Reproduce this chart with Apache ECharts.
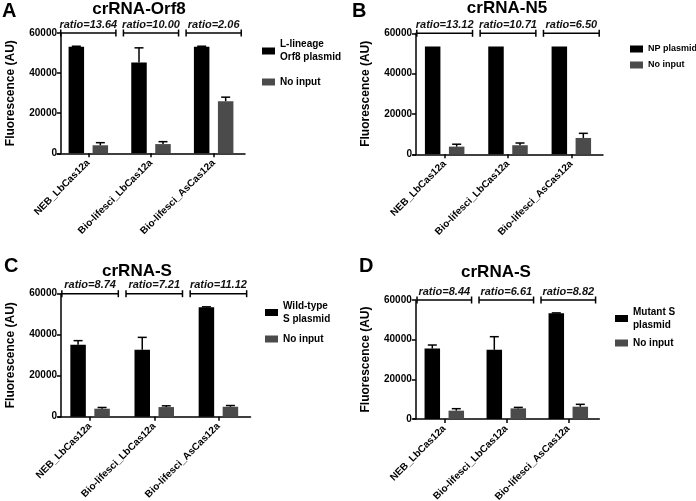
<!DOCTYPE html>
<html><head><meta charset="utf-8">
<script src="https://cdn.jsdelivr.net/npm/echarts/dist/echarts.min.js"></script>
<style>html,body{margin:0;padding:0;background:#fff}#c{width:696px;height:501px}</style>
</head><body><div id="c"></div>
<script>
// ---- data ----
const categories = ['NEB_LbCas12a', 'Bio-lifesci_LbCas12a', 'Bio-lifesci_AsCas12a'];
const panelLetters = ['A', 'B', 'C', 'D'];
const panelTitles = ['crRNA-Orf8', 'crRNA-N5', 'crRNA-S', 'crRNA-S'];
const plasmidNames = ['L-lineage\nOrf8 plasmid', 'NP plasmid', 'Wild-type\nS plasmid', 'Mutant S\nplasmid'];
const noInputName = 'No input';
const yTickLabels = [0, 20000, 40000, 60000];
const bracketLevel = 60000;

const plasmidA = [53100, 45300, 53100];
const plasmidSdA = [300, 7300, 300];
const noInputA = [4000, 4600, 26000];
const noInputSdA = [1300, 1200, 2000];
const ratiosA = ['ratio=13.64', 'ratio=10.00', 'ratio=2.06'];

const plasmidB = [53400, 53400, 53400];
const plasmidSdB = [0, 0, 0];
const noInputB = [3800, 4500, 8100];
const noInputSdB = [1200, 1100, 2300];
const ratiosB = ['ratio=13.12', 'ratio=10.71', 'ratio=6.50'];

const plasmidC = [35100, 32700, 53400];
const plasmidSdC = [2000, 6000, 200];
const noInputC = [3900, 4700, 4850];
const noInputSdC = [600, 600, 600];
const ratiosC = ['ratio=8.74', 'ratio=7.21', 'ratio=11.12'];

const plasmidD = [35500, 34900, 53300];
const plasmidSdD = [1800, 6600, 200];
const noInputD = [4200, 5350, 6200];
const noInputSdD = [1000, 500, 1200];
const ratiosD = ['ratio=8.44', 'ratio=6.61', 'ratio=8.82'];

const panelData = [
  {plasmid: plasmidA, plasmidSd: plasmidSdA, noInput: noInputA, noInputSd: noInputSdA, ratios: ratiosA},
  {plasmid: plasmidB, plasmidSd: plasmidSdB, noInput: noInputB, noInputSd: noInputSdB, ratios: ratiosB},
  {plasmid: plasmidC, plasmidSd: plasmidSdC, noInput: noInputC, noInputSd: noInputSdC, ratios: ratiosC},
  {plasmid: plasmidD, plasmidSd: plasmidSdD, noInput: noInputD, noInputSd: noInputSdD, ratios: ratiosD}
];

// ---- layout / style ----
const FONT = "'Liberation Sans', Arial, sans-serif";
const BLACK = '#000000';
const GRAY = '#4b4b4b';
const layout = [
  {left: 57, top: 33, width: 188, height: 120.3, yOff: -4, titleX: 139, titleTop: 1, letter: [2, 1], leg: [262, 38, 11.5, 10]},
  {left: 413, top: 33.3, width: 190, height: 121, yOff: -3, titleX: 507, titleTop: 0, letter: [352, 1], leg: [630, 42.5, 3, 9]},
  {left: 58, top: 293.7, width: 192.5, height: 123, yOff: -3, titleX: 137, titleTop: 263, letter: [4, 256], leg: [265, 299.5, 7, 10]},
  {left: 413.3, top: 300, width: 186, height: 119, yOff: -2.5, titleX: 496, titleTop: 264, letter: [359, 256], leg: [615, 305.5, 5, 10]}
];
const BAR_W = 15.5, BAR_GAP = 8.5;
const HALF_STEP = (BAR_W + BAR_GAP) / 2;

function errRender(sign) {
  return function (params, api) {
    const idx = api.value(0), mean = api.value(1), top = api.value(2);
    if (!(top > mean)) return null;
    const p1 = api.coord([idx, mean]);
    const p2 = api.coord([idx, top]);
    const x = p1[0] + sign * HALF_STEP;
    return {type: 'group', children: [
      {type: 'line', shape: {x1: x, y1: p1[1], x2: x, y2: p2[1]}, style: {stroke: BLACK, lineWidth: 1.5}},
      {type: 'line', shape: {x1: x - 4.5, y1: p2[1], x2: x + 4.5, y2: p2[1]}, style: {stroke: BLACK, lineWidth: 1.5}}
    ]};
  };
}
function bracketRender(ratios) {
  return function (params, api) {
    const idx = api.value(0);
    const c = api.coord([idx, api.value(1)]);
    const bw = api.size([1, 0])[0];
    const h = bw * 0.44;
    return {type: 'group', children: [
      {type: 'line', shape: {x1: c[0] - h, y1: c[1], x2: c[0] + h, y2: c[1]}, style: {stroke: BLACK, lineWidth: 1.5}},
      {type: 'line', shape: {x1: c[0] - h, y1: c[1] - 3.5, x2: c[0] - h, y2: c[1] + 3.5}, style: {stroke: BLACK, lineWidth: 1.5}},
      {type: 'line', shape: {x1: c[0] + h, y1: c[1] - 3.5, x2: c[0] + h, y2: c[1] + 3.5}, style: {stroke: BLACK, lineWidth: 1.5}},
      {type: 'text', x: c[0], y: c[1] - 8.5, style: {text: ratios[params.dataIndex], align: 'center', verticalAlign: 'middle',
        fontFamily: FONT, fontSize: 11, fontWeight: 'bold', fontStyle: 'italic', fill: '#111'}}
    ]};
  };
}

const option = {
  backgroundColor: '#ffffff',
  animation: false,
  title: [], grid: [], xAxis: [], yAxis: [], legend: [], series: []
};

layout.forEach((L, i) => {
  const d = panelData[i];
  option.title.push({text: panelLetters[i], left: L.letter[0], top: L.letter[1], padding: 0,
    textStyle: {fontFamily: FONT, fontSize: 20, fontWeight: 'bold', color: BLACK}});
  option.title.push({text: panelTitles[i], left: L.titleX, top: L.titleTop, padding: 0, textAlign: 'center',
    textStyle: {fontFamily: FONT, fontSize: 17, fontWeight: 'bold', color: BLACK}});
  option.grid.push({left: L.left, top: L.top, width: L.width, height: L.height, outerBoundsMode: 'none', containLabel: false});
  option.xAxis.push({
    type: 'category', gridIndex: i, data: categories,
    axisLine: {show: true, lineStyle: {color: BLACK, width: 1.5}},
    axisTick: {show: true, alignWithLabel: true, length: 4, lineStyle: {color: BLACK, width: 1.5}},
    axisLabel: {rotate: 45, interval: 0, margin: 8, fontFamily: FONT, fontSize: 10, fontWeight: 'bold', color: BLACK},
    splitLine: {show: false}
  });
  option.yAxis.push({
    type: 'value', gridIndex: i, min: yTickLabels[0], max: yTickLabels[yTickLabels.length - 1],
    interval: yTickLabels[1] - yTickLabels[0], offset: L.yOff,
    name: 'Fluorescence (AU)', nameLocation: 'middle', nameRotate: 90, nameGap: 44,
    nameTextStyle: {fontFamily: FONT, fontSize: 12, fontWeight: 'bold', color: BLACK},
    axisLine: {show: true, lineStyle: {color: BLACK, width: 1.5}},
    axisTick: {show: true, length: 4, lineStyle: {color: BLACK, width: 1.5}},
    axisLabel: {margin: 4, fontFamily: FONT, fontSize: 10, fontWeight: 'bold', color: BLACK, formatter: v => String(v)},
    splitLine: {show: false}
  });
  option.legend.push({
    orient: 'vertical', left: L.leg[0], top: L.leg[1], itemGap: L.leg[2], padding: 0,
    itemWidth: 13, itemHeight: 7, icon: 'rect', selectedMode: false,
    data: [plasmidNames[i], noInputName],
    textStyle: {fontFamily: FONT, fontSize: L.leg[3], fontWeight: 'bold', color: BLACK, lineHeight: 13}
  });
  option.series.push({
    type: 'bar', name: plasmidNames[i], xAxisIndex: i, yAxisIndex: i, data: d.plasmid,
    barWidth: BAR_W, barGap: (BAR_GAP / BAR_W * 100) + '%', itemStyle: {color: BLACK}
  });
  option.series.push({
    type: 'bar', name: noInputName, xAxisIndex: i, yAxisIndex: i, data: d.noInput,
    barWidth: BAR_W, barGap: (BAR_GAP / BAR_W * 100) + '%', itemStyle: {color: GRAY}
  });
  option.series.push({
    type: 'custom', xAxisIndex: i, yAxisIndex: i, z: 5, clip: false, silent: true,
    renderItem: errRender(-1),
    data: d.plasmid.map((v, k) => [k, v, v + d.plasmidSd[k]])
  });
  option.series.push({
    type: 'custom', xAxisIndex: i, yAxisIndex: i, z: 5, clip: false, silent: true,
    renderItem: errRender(1),
    data: d.noInput.map((v, k) => [k, v, v + d.noInputSd[k]])
  });
  option.series.push({
    type: 'custom', xAxisIndex: i, yAxisIndex: i, z: 6, clip: false, silent: true,
    renderItem: bracketRender(d.ratios),
    data: categories.map((c, k) => [k, bracketLevel])
  });
});

const chart = echarts.init(document.getElementById('c'), null, {renderer: 'canvas'});
chart.setOption(option);
</script>
</body></html>
